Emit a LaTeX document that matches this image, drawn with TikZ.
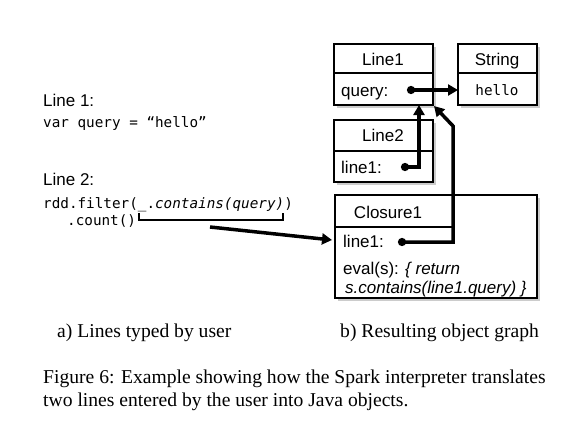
\documentclass[tikz,border=0pt]{standalone}
\usepackage{fontspec}
\setmainfont{Liberation Serif}
\setsansfont{Liberation Sans}
\setmonofont{DejaVu Sans Mono}
\usetikzlibrary{arrows.meta}
\begin{document}
\begin{tikzpicture}[x=1pt,y=-1pt,
  box/.style={draw=black, line width=1.2pt, fill=white},
  lbl/.style={font=\sffamily\fontsize{17}{19}\selectfont, inner sep=0pt, anchor=base west},
  ctr/.style={font=\sffamily\fontsize{17}{19}\selectfont, inner sep=0pt, anchor=base},
  code/.style={font=\ttfamily\fontsize{14.3}{16}\selectfont, inner sep=0pt, anchor=base west},
  captxt/.style={font=\rmfamily\fontsize{19.6}{22}\selectfont, inner sep=0pt, anchor=base west},
  ptr/.style={line width=3.5pt, {Circle[length=8pt]}-{Triangle[length=10pt,width=11pt]}},
  thk/.style={line width=3.5pt, -{Triangle[length=10pt,width=11pt]}}]
\useasboundingbox (0,0) rectangle (581,434);
% shadows
\foreach \a/\b/\c/\d in {334/44/433/105, 458/44/537/105, 334/120/433/182, 335/195/537/298}
  \fill[black!20] (\a+3,\b+3) rectangle (\c+3,\d+3);
% boxes
\draw[box] (334,44) rectangle (433,105); \draw[line width=1.2pt] (334,73) -- (433,73);
\draw[box] (458,44) rectangle (537,105); \draw[line width=1.2pt] (458,73) -- (537,73);
\draw[box] (334,120) rectangle (433,182); \draw[line width=1.2pt] (334,151) -- (433,151);
\draw[box] (335,195) rectangle (537,298); \draw[line width=1.2pt] (335,227) -- (453,227);
\coordinate (l1bot) at (419,105);
\coordinate (l1corner) at (434,106);
\coordinate (strleft) at (458,90);
\coordinate (clleft) at (332,240);
% box texts
\node[ctr] (t1) at (383,65) {Line1};
\node[lbl] (t2) at (341,96) {query:};
\node[ctr] (t3) at (497,65) {String};
\node[font=\ttfamily\fontsize{14.3}{16}\selectfont, inner sep=0pt, anchor=base] (t4) at (497,95) {hello};
\node[ctr] (t5) at (383,141) {Line2};
\node[lbl] (t6) at (341,173) {line1:};
\node[ctr] (t7) at (388,218) {Closure1};
\node[lbl] (t8) at (343,247) {line1:};
\node[lbl] (t9) at (343,274) {eval(s): \textit{\{ return}};
\node[lbl] (t10) at (345,293) {\textit{s.contains(line1.query) \}}};
% pointers
\coordinate (d1) at (407,90);
\coordinate (d2) at (401,167);
\coordinate (d3) at (398,242);
\draw[ptr] (d1) -- (strleft);
\draw[ptr] (d2) -| (l1bot);
\draw[ptr] (d3) -- (453,242) -- (453,126) -- (l1corner);
% left texts
\node[lbl] (a1) at (43,106) {Line 1:};
\node[code] (a2) at (43,127) {var query = “hello”};
\node[lbl] (a3) at (43,185) {Line 2:};
\node[code] (a4) at (43,208) {rdd.filter(\_.\textit{contains(query)})};
\node[code] (a5) at (67,225) {.count()};
\coordinate (bl) at (139,213);
\coordinate (br) at (283,213);
\draw[line width=1.5pt] (bl) -- (139,220) -- (283,220) -- (br);
\coordinate (as) at (210,227);
\draw[thk] (as) -- (clleft);
% captions
\node[captxt] (c1) at (57,337) {a) Lines typed by user};
\node[captxt] (c2) at (340,337) {b) Resulting object graph};
\node[captxt] (c3) at (43,383) {Figure 6: Example showing how the Spark interpreter translates};
\node[captxt] (c4) at (43,406) {two lines entered by the user into Java objects.};
\end{tikzpicture}
\end{document}
